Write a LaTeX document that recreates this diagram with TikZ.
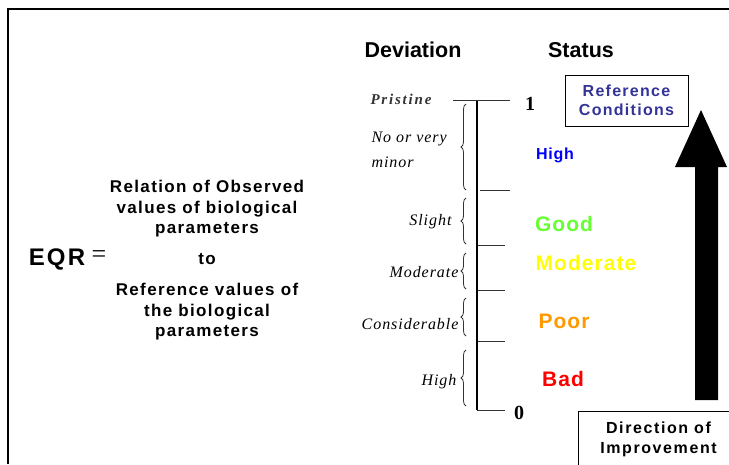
\documentclass[tikz,border=0pt]{standalone}
\usepackage{fontspec}
\setmainfont{Liberation Serif}
\setsansfont{Liberation Sans}
\newfontfamily\sfA[LetterSpace=8]{Liberation Sans}
\newfontfamily\sfB[LetterSpace=5]{Liberation Sans}
\newfontfamily\sfC[LetterSpace=9]{Liberation Sans}
\newfontfamily\sfD[LetterSpace=10]{Liberation Sans}
\newfontfamily\rmA[LetterSpace=6]{Liberation Serif}
\newfontfamily\rmB[LetterSpace=12]{Liberation Serif}
\usetikzlibrary{decorations.pathreplacing}
\definecolor{refblue}{HTML}{333399}
\definecolor{highblue}{HTML}{0000FF}
\definecolor{goodgreen}{HTML}{66FF33}
\definecolor{modyellow}{HTML}{FFFF00}
\definecolor{poororange}{HTML}{FF9900}
\definecolor{badred}{HTML}{FF0000}
\begin{document}
\begin{tikzpicture}[x=1pt,y=-1pt,
  head/.style={font=\sffamily\bfseries\fontsize{21.5}{24}\selectfont},
  frac/.style={font=\sfA\bfseries\fontsize{17}{20.5}\selectfont,align=center},
  dev/.style={font=\rmA\itshape\fontsize{16}{25}\selectfont,align=left},
  stat/.style={font=\sfB\bfseries\fontsize{21}{23}\selectfont},
  tick/.style={line width=1pt,draw=black!80},
  brc/.style={decorate,decoration={brace,amplitude=5pt,mirror},draw=black!80,line width=0.8pt},
  boxed/.style={draw,line width=1pt,align=center,inner sep=0pt}]
\useasboundingbox (0,0) rectangle (729,464);
% frame
\draw[line width=1.2pt] (8,464) -- (8,9) -- (729,9);
% headers
\node[head] (deviation) at (413,50) {Deviation};
\node[head] (status) at (581,50) {Status};
% EQR
\node[font=\sfC\bfseries\fontsize{24}{26}\selectfont] (eqr) at (57,259) {EQR};
\node[font=\fontsize{26}{28}\selectfont] (eq) at (99,257) {=};
\node[frac] (num) at (207,209) {Relation of Observed\\values of biological\\parameters};
\node[frac] (to) at (207,259) {to};
\node[frac] (den) at (207,312) {Reference values of\\the biological\\parameters};
% axis
\coordinate (atop) at (477,100);
\coordinate (abot) at (477,410);
\draw[line width=1.2pt] (atop) -- (abot);
\draw[tick] (453,100) -- (510,100);
\draw[tick] (480,190) -- (510,190);
\draw[tick] (478,245) -- (505,245);
\draw[tick] (478,290) -- (505,290);
\draw[tick] (478,341) -- (505,341);
\draw[tick] (477,410) -- (505,410);
\node[font=\rmfamily\bfseries\fontsize{20}{22}\selectfont] (one) at (530,104) {1};
\node[font=\rmfamily\bfseries\fontsize{20}{22}\selectfont] (zero) at (519,413) {0};
\node[font=\rmB\bfseries\itshape\fontsize{15}{17}\selectfont,text=black!80] (pristine) at (401,99) {Pristine};
% braces
\draw[brc] (466,104) -- (466,190);
\draw[brc] (466,198) -- (466,244);
\draw[brc] (466,253) -- (466,289);
\draw[brc] (466,298) -- (466,336);
\draw[brc] (466,350) -- (466,406);
\node[dev,anchor=west] (nominor) at (368,150) {No or very\\minor};
\node[dev,anchor=east] (slight) at (455,222) {Slight};
\node[dev,anchor=east] (moderate) at (462,272) {Moderate};
\node[dev,anchor=east] (consid) at (462,324) {Considerable};
\node[dev,anchor=east] (highdev) at (460,382) {High};
% status
\node[stat,text=highblue,font=\sfB\bfseries\fontsize{16}{18}\selectfont] (high) at (555,155) {High};
\node[stat,text=goodgreen] (good) at (564,224) {Good};
\node[stat,text=modyellow] (moderate2) at (586,263) {Moderate};
\node[stat,text=poororange] (poor) at (564,321) {Poor};
\node[stat,text=badred] (bad) at (563,379) {Bad};
% reference box
\node[boxed,minimum width=123pt,minimum height=51pt,font=\sfA\bfseries\fontsize{16}{19}\selectfont,text=refblue] (ref) at (626.5,100.5) {Reference\\Conditions};
% big arrow
\fill (695,400) -- (695,167) -- (675,167) -- (701,110) -- (727,167) -- (718,167) -- (718,400) -- cycle;
\node[boxed,minimum width=160pt,minimum height=56pt,font=\sfD\bfseries\fontsize{16}{20}\selectfont,anchor=north west] (dir) at (578,411) {Direction of\\Improvement};
\end{tikzpicture}
\end{document}
